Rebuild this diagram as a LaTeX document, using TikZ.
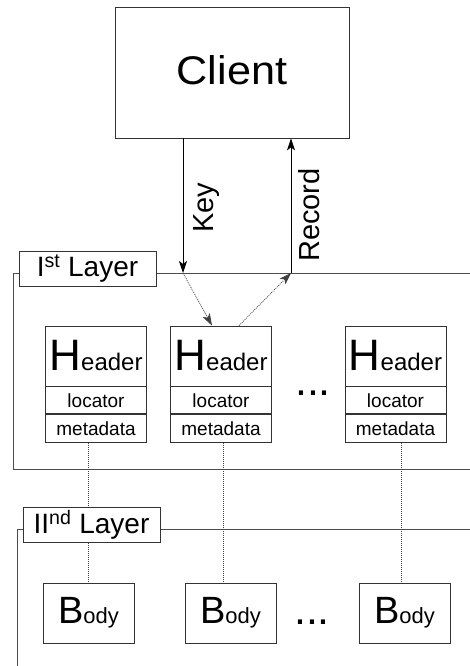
\documentclass[tikz,border=0pt]{standalone}
\usepackage{fontspec}
\setmainfont{Liberation Sans}
\usetikzlibrary{arrows.meta}

% mixed-size labels: a large initial followed by smaller text
\newcommand\leadcap[2]{{\fontsize{#1}{#1}\selectfont #2}}

\begin{document}
\begin{tikzpicture}[x=1pt,y=-1pt,
  box/.style={draw=black!80, line width=0.8pt, inner sep=0pt},
  cell/.style={box, minimum width=101pt, anchor=north},
  topcell/.style={box, minimum width=101pt, minimum height=60pt},
  smallcell/.style={font=\fontsize{19}{19}\selectfont},
  bodybox/.style={box, minimum width=91pt, minimum height=60pt},
  layerbox/.style={box, fill=white, minimum width=137pt, minimum height=35pt,
    font=\fontsize{28}{28}\selectfont},
  frame/.style={draw=black!70, line width=0.8pt},
  conn/.style={draw=black, line width=0.8pt},
  tip/.style={-{Stealth[length=12pt,width=8pt,inset=3pt]}},
  link/.style={draw=black!75, line width=0.7pt, dash pattern=on 1pt off 1pt},
  vlabel/.style={rotate=90, font=\fontsize{29}{29}\selectfont, inner sep=0pt},
  more/.style={font=\fontsize{43}{43}\selectfont, inner sep=0pt}
]
\useasboundingbox (0,0) rectangle (470,666);

% client
\node[box, minimum width=234pt, minimum height=131pt,
      font=\fontsize{40}{40}\selectfont] (client) at (232,72.5)
      {\raisebox{4pt}{\scalebox{1.08}[1]{Client}}};

% headers of the first layer
\node[topcell] (h1) at (96,356) {\raisebox{2pt}{\leadcap{44}{H}\leadcap{24}{eader}}};
\node[cell, minimum height=27pt, smallcell] (l1) at (h1.south) {locator};
\node[cell, minimum height=28pt, smallcell] (m1) at (l1.south) {metadata};

\node[topcell] (h2) at (221,356) {\raisebox{2pt}{\leadcap{44}{H}\leadcap{24}{eader}}};
\node[cell, minimum height=27pt, smallcell] (l2) at (h2.south) {locator};
\node[cell, minimum height=28pt, smallcell] (m2) at (l2.south) {metadata};

\node[topcell] (h3) at (395.5,356) {\raisebox{2pt}{\leadcap{44}{H}\leadcap{24}{eader}}};
\node[cell, minimum height=27pt, smallcell] (l3) at (h3.south) {locator};
\node[cell, minimum height=28pt, smallcell] (m3) at (l3.south) {metadata};

\node[more] (dots1) at (313,393) {...};

% bodies of the second layer
\node[bodybox] (b1) at (88.5,613) {\leadcap{38}{B}\leadcap{22}{ody}};
\node[bodybox] (b2) at (230.5,613) {\leadcap{38}{B}\leadcap{22}{ody}};
\node[bodybox] (b3) at (404.5,613) {\leadcap{38}{B}\leadcap{22}{ody}};

\node[more] (dots2) at (312,622) {...};

% layer frames
\draw[frame] (470,273) -- (13,273) -- (13,469) -- (470,469);
\draw[frame] (470,529) -- (17,529) -- (17,666);

% header-to-body links
\coordinate (x1) at (88,441);
\coordinate (x2) at (223,441);
\coordinate (x3) at (401,441);
\draw[link] (x1 |- m1.south) -- (x1 |- b1.north);
\draw[link] (x2 |- m2.south) -- (x2 |- b2.north);
\draw[link] (x3 |- m3.south) -- (x3 |- b3.north);

% request and reply
\coordinate (keyend) at (183,273);
\coordinate (recstart) at (291,273);
\draw[conn, tip] (keyend |- client.south) -- (keyend);
\draw[conn, tip] (recstart) -- (recstart |- client.south);
\draw[link, tip] (keyend) -- ([xshift=-9pt]h2.north);
\draw[link, tip] ([xshift=18pt]h2.north) -- (recstart);
\node[vlabel] (keylbl) at (207,208) {Key};
\node[vlabel] (reclbl) at (309,215) {Record};

% layer captions
\node[layerbox] (layer1) at (87.5,268.5) {I\textsuperscript{st} Layer};
\node[layerbox] (layer2) at (91.5,525) {II\textsuperscript{nd} Layer};
\end{tikzpicture}
\end{document}
